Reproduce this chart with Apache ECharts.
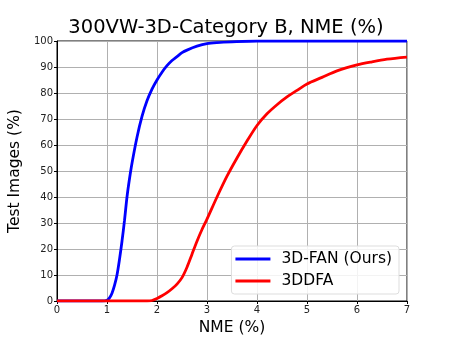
<!DOCTYPE html>
<html>
<head>
<meta charset="utf-8">
<script src="https://cdn.jsdelivr.net/npm/echarts@6/dist/echarts.min.js"></script>
<style>
  html, body { margin: 0; padding: 0; background: #fff; }
  #chart { width: 452px; height: 339px; }
</style>
</head>
<body>
<div id="chart"></div>
<script>
var fanX = [0, 0.9, 1.0, 1.05, 1.1, 1.15, 1.2, 1.25, 1.3, 1.35, 1.4, 1.45, 1.5, 1.6, 1.7, 1.8, 1.9, 2.0, 2.1, 2.2, 2.3, 2.4, 2.5, 2.6, 2.8, 3.0, 3.2, 3.5, 4.0, 5, 6, 7];
var fanY = [0, 0, 0.3, 1.2, 3, 6, 10, 16, 23, 31, 40, 47, 53, 63, 71, 77, 81.5, 85, 88, 90.5, 92.5, 94, 95.5, 96.5, 98, 99, 99.4, 99.7, 100, 100, 100, 100];
var ddfaX = [0, 1.8, 1.9, 2.0, 2.1, 2.2, 2.3, 2.4, 2.5, 2.6, 2.7, 2.8, 2.9, 3.0, 3.2, 3.4, 3.6, 3.8, 4.0, 4.2, 4.4, 4.6, 4.8, 5.0, 5.3, 5.6, 6.0, 6.3, 6.6, 7.0];
var ddfaY = [0, 0, 0.2, 1, 2, 3.2, 4.7, 6.5, 9, 13, 18, 23, 27.5, 31.5, 40, 48, 55, 61.5, 67.5, 72, 75.5, 78.5, 81, 83.5, 86, 88.5, 90.8, 92, 93, 93.8];

function pairs(xs, ys) {
  var out = [];
  for (var i = 0; i < xs.length; i++) out.push([xs[i], ys[i]]);
  return out;
}

var font = 'DejaVu Sans';
var chart = echarts.init(document.getElementById('chart'));
chart.setOption({
  animation: false,
  title: {
    text: '300VW-3D-Category B, NME (%)',
    left: 'center',
    top: 13,
    textStyle: { fontFamily: font, fontSize: 19.5, fontWeight: 'normal', color: '#000' }
  },
  grid: {
    left: 57, right: 45, top: 41, bottom: 38,
    outerBoundsMode: 'none',
    show: true, borderColor: '#000', borderWidth: 1
  },
  legend: {
    orient: 'vertical',
    right: 53, bottom: 45,
    padding: [5, 7, 5, 4],
    itemGap: 6,
    itemWidth: 35, itemHeight: 3,
    icon: 'rect',
    borderColor: '#ddd', borderWidth: 1, borderRadius: 3,
    backgroundColor: 'rgba(255,255,255,0.85)',
    textStyle: { fontFamily: font, fontSize: 15.5, color: '#000', padding: [0, 0, 0, 6] },
    data: ['3D-FAN (Ours)', '3DDFA']
  },
  xAxis: {
    type: 'value', min: 0, max: 7, interval: 1,
    name: 'NME (%)', nameLocation: 'middle', nameGap: 16,
    nameTextStyle: { fontFamily: font, fontSize: 15.5, color: '#000' },
    axisLine: { show: true, lineStyle: { color: '#000' } },
    axisTick: { show: true, length: 3, inside: false, lineStyle: { color: '#000' } },
    axisLabel: { fontFamily: font, fontSize: 10, color: '#222', margin: 4 },
    splitLine: { show: true, lineStyle: { color: '#b0b0b0', width: 1 } }
  },
  yAxis: {
    type: 'value', min: 0, max: 100, interval: 10,
    name: 'Test Images (%)', nameLocation: 'middle', nameGap: 30,
    nameTextStyle: { fontFamily: font, fontSize: 15.5, color: '#000' },
    axisLine: { show: true, lineStyle: { color: '#000' } },
    axisTick: { show: true, length: 3, inside: false, lineStyle: { color: '#000' } },
    axisLabel: { fontFamily: font, fontSize: 10, color: '#222', margin: 4 },
    splitLine: { show: true, lineStyle: { color: '#b0b0b0', width: 1 } }
  },
  series: [{
    name: '3D-FAN (Ours)',
    type: 'line',
    data: pairs(fanX, fanY),
    smooth: 0.3,
    showSymbol: false,
    lineStyle: { color: '#0000ff', width: 2.8 },
    itemStyle: { color: '#0000ff' }
  }, {
    name: '3DDFA',
    type: 'line',
    data: pairs(ddfaX, ddfaY),
    smooth: 0.3,
    showSymbol: false,
    lineStyle: { color: '#ff0000', width: 2.8 },
    itemStyle: { color: '#ff0000' }
  }]
});
</script>
</body>
</html>
